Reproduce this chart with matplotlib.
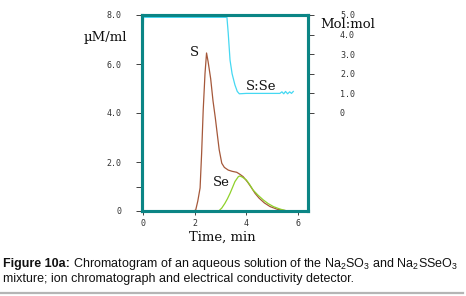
import numpy as np
import matplotlib
matplotlib.use("Agg")
import matplotlib.pyplot as plt

# data
s_time = [0, 1.95, 2.04, 2.12, 2.21, 2.27, 2.33, 2.40, 2.46, 2.52, 2.62, 2.71, 2.80, 2.88,
          2.95, 3.05, 3.15, 3.30, 3.45, 3.63, 3.75, 3.88, 4.05, 4.20, 4.34, 4.50, 4.70,
          4.92, 5.20, 5.56, 6.0, 6.25]
s_conc = [0, 0, 0.04, 0.4, 0.94, 2.36, 4.1, 5.6, 6.45, 6.1, 5.4, 4.5, 3.8, 3.1,
          2.5, 1.95, 1.78, 1.67, 1.62, 1.58, 1.5, 1.40, 1.18, 0.95, 0.72, 0.52, 0.33,
          0.18, 0.07, 0.01, 0, 0]

se_time = [0, 2.93, 3.05, 3.17, 3.27, 3.37, 3.47, 3.56, 3.69, 3.75, 3.85, 4.0, 4.13,
           4.26, 4.45, 4.66, 4.85, 5.05, 5.25, 5.43, 5.6, 6.25]
se_conc = [0, 0, 0.12, 0.31, 0.5, 0.72, 0.97, 1.2, 1.4, 1.43, 1.38, 1.27, 1.08,
           0.86, 0.65, 0.45, 0.3, 0.18, 0.1, 0.04, 0, 0]

ratio_time = [0.0, 0.02, 1.0, 2.0, 3.0, 3.25, 3.30, 3.37, 3.45, 3.56, 3.65, 3.73, 4.0,
              4.5, 5.0, 5.3, 5.38, 5.45, 5.52, 5.6, 5.68, 5.75, 5.82]
ratio_val = [3.7, 4.88, 4.88, 4.88, 4.88, 4.88, 4.07, 2.7, 2.0, 1.43, 1.1, 0.98, 1.0,
             1.0, 1.0, 1.0, 1.08, 0.98, 1.1, 0.98, 1.08, 1.0, 1.1]

left_ticks = [0, 2, 4, 6, 8]
left_labels = ["0", "2.0", "4.0", "6.0", "8.0"]
right_ticks = [0, 1, 2, 3, 4, 5]
right_labels = ["0", "1.0", "2.0", "3.0", "4.0", "5.0"]
x_ticks = [0, 2, 4, 6]

W, H = 466, 296
teal = "#0b8585"
tick_font = dict(family="DejaVu Sans Mono", size=6, color="#333333")

plt.rcParams["mathtext.fontset"] = "custom"
plt.rcParams["mathtext.rm"] = "Liberation Sans"
plt.rcParams["mathtext.it"] = "Liberation Sans:italic"
plt.rcParams["mathtext.bf"] = "Liberation Sans:bold"

fig = plt.figure(figsize=(W / 100, H / 100), dpi=100)
ax = fig.add_axes([142 / W, 1 - 211 / H, (308 - 142) / W, (211 - 15) / H])
ax2 = ax.twinx()

ax.plot(s_time, s_conc, color="#a5583a", lw=0.9)
ax.plot(se_time, se_conc, color="#8fd12a", lw=0.9)
ax2.plot(ratio_time, ratio_val, color="#45d8f2", lw=0.9)

ax.set_xlim(-0.04, 6.39)
ax.set_ylim(0, 8)
ax2.set_ylim(-5, 5)

ax.set_xticks(x_ticks)
ax.set_xticklabels([str(t) for t in x_ticks], **tick_font)
ax.set_yticks(left_ticks)
ax.set_yticklabels(left_labels, **tick_font)
ax.set_yticks([1], minor=True)
ax2.set_yticks(right_ticks)
ax2.set_yticklabels(right_labels, **tick_font)

ax.tick_params(axis="y", which="both", direction="out", length=4, width=0.6, pad=11, color="#222222")
ax.tick_params(axis="x", direction="out", length=3, width=0.6, pad=3, color="#222222")
ax2.tick_params(axis="y", direction="out", length=4, width=0.6, pad=19, color="#222222")

for a in (ax, ax2):
    for sp in a.spines.values():
        sp.set_color(teal)
        sp.set_linewidth(2.2)

serif = dict(family="DejaVu Serif", size=9.5, color="#111111")
fig.text(127 / W, 1 - 38 / H, "\u00b5M/ml", ha="right", va="center", **serif)
fig.text(320 / W, 1 - 24 / H, "Mol:mol", ha="left", va="center", **serif)
fig.text(222 / W, 1 - 237 / H, "Time, min", ha="center", va="center", **serif)
fig.text(194 / W, 1 - 53 / H, "S", ha="center", va="center", **serif)
fig.text(246 / W, 1 - 87 / H, "S:Se", ha="left", va="center", **serif)
fig.text(213 / W, 1 - 183 / H, "Se", ha="left", va="center", **serif)

# caption
cap = dict(family="Liberation Sans", size=9, color="#111111")
line1_y = 1 - 267 / H
bold = fig.text(3 / W, line1_y, "Figure 10a:", fontweight="bold", va="baseline", **cap)
fig.canvas.draw()
bold_end = bold.get_window_extent().x1 / W
fig.text(bold_end, line1_y,
         " Chromatogram of an aqueous solution of the Na$_2$SO$_3$ and Na$_2$SSeO$_3$",
         va="baseline", **cap)
fig.text(3 / W, 1 - 282 / H, "mixture; ion chromatograph and electrical conductivity detector.",
         va="baseline", **cap)

fig.add_artist(plt.Line2D([0, 463 / W], [1 - 293 / H, 1 - 293 / H], color="#b5b5b5", lw=1.6))

fig.savefig("out.png", dpi=100)
